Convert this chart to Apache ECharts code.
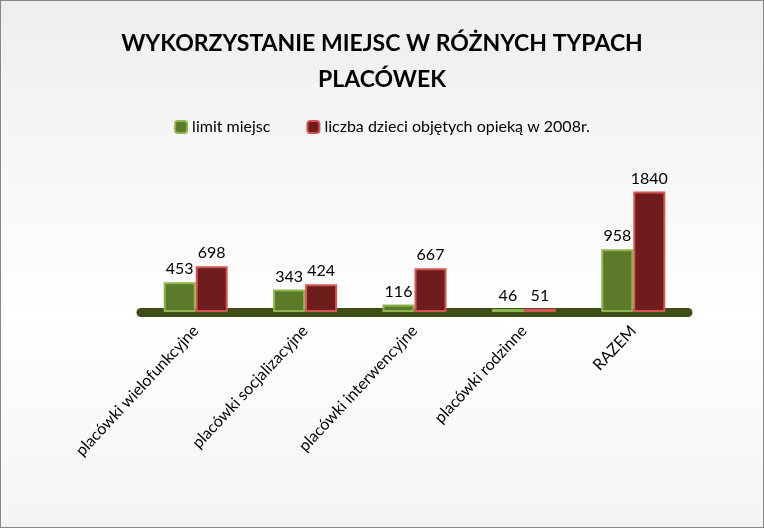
<!DOCTYPE html>
<html>
<head>
    <meta charset="UTF-8">
    <script src="https://cdn.jsdelivr.net/npm/echarts@6/dist/echarts.min.js"></script>
    <style>
        body { margin: 0; }
        #chart { width: 762px; height: 526px; border: 1px solid #888;
                 background: linear-gradient(#eeeeee, #ffffff 60%, #f4f4f4); }
    </style>
</head>
<body>
    <div id="chart"></div>
    <script>
    var categories = ['placówki wielofunkcyjne', 'placówki socjalizacyjne', 'placówki interwencyjne', 'placówki rodzinne', 'RAZEM'];
    var limitMiejsc = [453, 343, 116, 46, 958];
    var liczbaDzieci = [698, 424, 667, 51, 1840];
    var seriesNames = ['limit miejsc', 'liczba dzieci objętych opieką w 2008r.'];

    var font = 'Lato, "Liberation Sans", sans-serif';
    var chart = echarts.init(document.getElementById('chart'));
    chart.setOption({
        textStyle: { fontFamily: font },
        title: {
            text: 'WYKORZYSTANIE MIEJSC W RÓŻNYCH TYPACH\nPLACÓWEK',
            left: 'center', top: 20,
            textStyle: { fontSize: 23, fontWeight: 'bold', color: '#000', lineHeight: 36, fontFamily: font }
        },
        legend: {
            top: 113, left: 'center', itemGap: 36, itemWidth: 12, itemHeight: 12,
            textStyle: { fontSize: 16, color: '#000' },
            data: seriesNames
        },
        grid: { left: 140, right: 75, top: 180, bottom: 215 },
        xAxis: {
            type: 'category', data: categories,
            axisLine: { lineStyle: { color: '#3e4d18', width: 9 } },
            axisTick: { show: false },
            axisLabel: { rotate: 47, fontSize: 16, color: '#000', margin: 16, interval: 0 }
        },
        yAxis: { type: 'value', min: 0, max: 2000, show: false, splitLine: { show: false } },
        series: [{
            name: seriesNames[0], type: 'bar', data: limitMiejsc,
            barWidth: 32, barGap: '0%',
            itemStyle: { color: '#5b7a2a', borderColor: '#8db44e', borderWidth: 2 },
            label: { show: true, position: 'top', fontSize: 16, color: '#000' }
        }, {
            name: seriesNames[1], type: 'bar', data: liczbaDzieci,
            barWidth: 32,
            itemStyle: { color: '#6e1c1c', borderColor: '#d65454', borderWidth: 2 },
            label: { show: true, position: 'top', fontSize: 16, color: '#000' }
        }]
    });
    </script>
</body>
</html>
